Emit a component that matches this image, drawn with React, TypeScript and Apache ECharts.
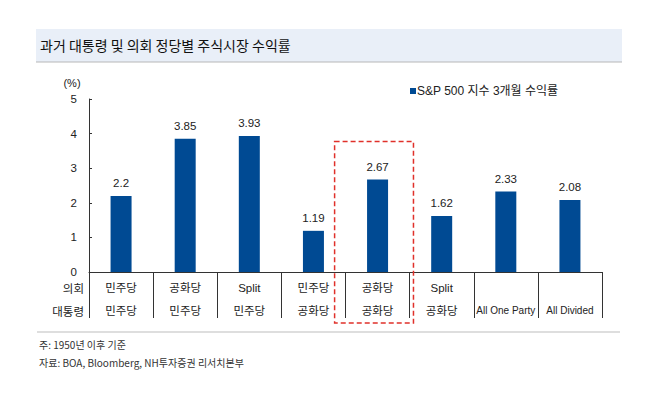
import React, { useEffect, useRef } from "react";
import * as echarts from "echarts";

const congress = ["민주당", "공화당", "Split", "민주당", "공화당", "Split", "", ""];
const president = ["민주당", "민주당", "민주당", "공화당", "공화당", "공화당", "All One Party", "All Divided"];
const returns3m = [2.2, 3.85, 3.93, 1.19, 2.67, 1.62, 2.33, 2.08];
const yTicks = [0, 1, 2, 3, 4, 5];
const seriesName = "S&P 500 지수 3개월 수익률";
const titleText = "과거 대통령 및 의회 정당별 주식시장 수익률";
const note1 = "주: 1950년 이후 기준";
const note2 = "자료: BOA, Bloomberg, NH투자증권 리서치본부";
const highlightIndex = 4;

const KR = "'Noto Sans CJK KR', 'Liberation Sans', sans-serif";
const NUM = "'Liberation Sans Narrow', 'Liberation Sans', Arial, 'Noto Sans CJK KR', sans-serif";

export default function App() {
  const ref = useRef<HTMLDivElement>(null);
  useEffect(() => {
    if (!ref.current) return;
    const chart = echarts.init(ref.current, null, { renderer: "svg" });
    const categories = congress.map((c, i) => `${c}\n${president[i]}`);
    const option: any = {
      animation: false,
      backgroundColor: "#ffffff",
      grid: { left: 89, right: 54, top: 99, bottom: 124, containLabel: false },
      legend: {
        show: true,
        left: 405,
        top: 80,
        itemWidth: 6,
        itemHeight: 6,
        itemGap: 0,
        icon: "rect",
        textStyle: { fontSize: 12, color: "#222", fontFamily: NUM, padding: [0, 0, 0, -4] },
        data: [seriesName],
      },
      xAxis: {
        type: "category",
        data: categories,
        boundaryGap: true,
        axisLine: { show: true, lineStyle: { color: "#333", width: 1 } },
        axisTick: { show: true, length: 46, inside: false, lineStyle: { color: "#333" } },
        axisLabel: {
          interval: 0,
          margin: 4,
          color: "#222",
          fontSize: 11.5,
          fontFamily: NUM,
          lineHeight: 23,
          formatter: (v: string) => {
            const [a, b] = v.split("\n");
            const bb = /^All/.test(b) ? `{sm|${b}}` : b;
            return `${a}\n${bb}`;
          },
          rich: {
            sm: { fontSize: 10, fontFamily: NUM, color: "#222", lineHeight: 23, letterSpacing: -0.3 },
          },
        },
      },
      yAxis: {
        type: "value",
        min: yTicks[0],
        max: yTicks[yTicks.length - 1],
        interval: 1,
        axisLine: { show: true, lineStyle: { color: "#333", width: 1 } },
        axisTick: { show: true, inside: true, length: 3, lineStyle: { color: "#333" } },
        splitLine: { show: false },
        axisLabel: { color: "#222", fontSize: 11.5, fontFamily: NUM, margin: 12 },
      },
      series: [
        {
          name: seriesName,
          type: "bar",
          data: returns3m,
          barWidth: 21,
          itemStyle: { color: "#004a93" },
          label: {
            show: true,
            position: "top",
            distance: 7,
            color: "#222",
            fontSize: 11.5,
            fontFamily: NUM,
          },
        },
      ],
    };
    chart.setOption(option);

    const cx = chart.convertToPixel({ xAxisIndex: 0 }, highlightIndex) as number;
    const top = chart.convertToPixel({ yAxisIndex: 0 }, returns3m[highlightIndex]) as number;
    const prev = chart.convertToPixel({ xAxisIndex: 0 }, highlightIndex - 1) as number;
    const bw = cx - prev;

    chart.setOption({
      graphic: [
        { type: "rect", shape: { x: 36, y: 29, width: 586, height: 33 }, style: { fill: "#e9eff8" }, z: 0 },
        { type: "line", shape: { x1: 36, y1: 62, x2: 622, y2: 62 }, style: { stroke: "#b8b8b8", lineWidth: 1.2 } },
        { type: "text", x: 40, y: 45, style: { text: titleText, fontSize: 14, fill: "#111", fontFamily: KR, verticalAlign: "middle" } },
        { type: "text", x: 72, y: 83, style: { text: "(%)", fontSize: 11, fill: "#222", fontFamily: NUM, align: "center", verticalAlign: "middle" } },
        { type: "text", x: 84, y: 288, style: { text: "의회", fontSize: 11.5, fill: "#222", fontFamily: KR, align: "right", verticalAlign: "middle" } },
        { type: "text", x: 84, y: 311, style: { text: "대통령", fontSize: 11.5, fill: "#222", fontFamily: KR, align: "right", verticalAlign: "middle" } },
        {
          type: "rect",
          shape: { x: cx - bw * 0.67, y: top - 38, width: bw * 1.23, height: 323 - (top - 38) },
          style: { fill: "none", stroke: "#e0302a", lineWidth: 1.5, lineDash: [5, 3] },
          z: 10,
        },
        { type: "line", shape: { x1: 37, y1: 332, x2: 620, y2: 332 }, style: { stroke: "#bdbdbd", lineWidth: 1 } },
        { type: "text", x: 39, y: 344, style: { text: note1, fontSize: 10, fill: "#333", fontFamily: KR, verticalAlign: "middle" } },
        { type: "text", x: 39, y: 362, style: { text: note2, fontSize: 10, fill: "#333", fontFamily: KR, verticalAlign: "middle" } },
      ],
    });
    return () => chart.dispose();
  }, []);
  return <div ref={ref} style={{ position: "absolute", left: 0, top: 0, width: 656, height: 396 }} />;
}
